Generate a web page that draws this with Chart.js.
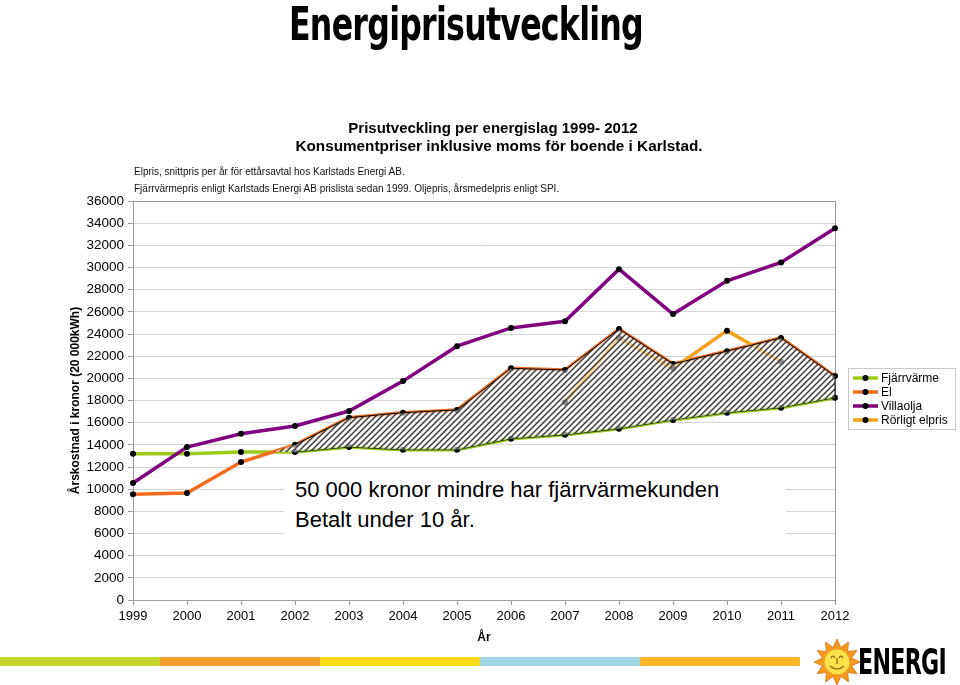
<!DOCTYPE html>
<html>
<head>
<meta charset="utf-8">
<script src="https://cdn.jsdelivr.net/npm/chart.js@4.4.1/dist/chart.umd.min.js"></script>
<style>
  body { margin: 0; background: #fff; font-family: "Liberation Sans", Arial, sans-serif; }
  #wrap { position: relative; width: 960px; height: 685px; overflow: hidden; }
  #chart { position: absolute; left: 0; top: 0; }
  .abs { position: absolute; white-space: nowrap; }
  #title { left: 0; top: -3px; font-family: "DejaVu Sans Condensed", "DejaVu Sans"; font-weight: bold; font-size: 46px; letter-spacing: -1px; transform-origin: 0 0; color: #000; }
  .sub { width: 960px; left: 0; text-align: center; font-weight: bold; font-size: 15px; }
  .note { left: 134px; font-size: 10px; color: #111; }
  #note-box { left: 284px; top: 474px; width: 502px; height: 62px; background: #fff; box-sizing: border-box; padding: 1px 0 0 11px; font-size: 22px; line-height: 30px; }
  #legend { left: 848px; top: 368px; width: 106px; border: 1px solid #c8c8c8; background: #fff; padding: 2px 0; font-size: 12px; }
  .li { display: flex; align-items: center; height: 14px; }
  .li canvas { margin: 0 3px 0 4px; }
  .stripe { position: absolute; top: 657px; height: 9px; width: 160px; }
  #energi { left: 858px; top: 641px; font-family: "DejaVu Sans Condensed", "DejaVu Sans"; font-weight: bold; font-size: 36px; letter-spacing: -1px; transform-origin: 0 0; }
</style>
</head>
<body>
<div id="wrap">
  <canvas id="chart" width="960" height="685"></canvas>
  <div id="title" class="abs">Energiprisutveckling</div>
  <div class="abs sub" style="top:119px; left:13px">Prisutveckling per energislag 1999- 2012</div>
  <div class="abs sub" style="top:137px; left:19px; font-size:15.3px">Konsumentpriser inklusive moms för boende i Karlstad.</div>
  <div class="abs note" style="top:166px">Elpris, snittpris per år för ettårsavtal hos Karlstads Energi AB.</div>
  <div class="abs note" style="top:183px">Fjärrvärmepris enligt Karlstads Energi AB prislista sedan 1999. Oljepris, årsmedelpris enligt SPI.</div>
  <div id="note-box" class="abs">50 000 kronor mindre har fjärrvärmekunden<br>Betalt under 10 år.</div>
  <div id="legend" class="abs"></div>
  <div class="stripe" style="left:0; background:#c4d52b"></div>
  <div class="stripe" style="left:160px; background:#f2a22c"></div>
  <div class="stripe" style="left:320px; background:#fdda18"></div>
  <div class="stripe" style="left:480px; background:#a0d7e3"></div>
  <div class="stripe" style="left:640px; background:#fbb52b"></div>
  <svg class="abs" style="left:814px; top:638px" width="46" height="47" viewBox="0 0 46 47">
    <polygon id="sun" fill="#f39a1e" stroke="#d9731a" stroke-width="0.8"></polygon>
    <circle cx="23" cy="24" r="13" fill="#ffe24a" stroke="#e8a020" stroke-width="1"/>
    <path d="M17 20 q2 -4 4 0 M25 20 q2 -4 4 0 M23 20 v6 M16 28 q7 6 14 0" fill="none" stroke="#8a5a10" stroke-width="1.2"/>
  </svg>
  <div id="energi" class="abs">ENERGI</div>
</div>
<script>
// values (kr / year, 20 000 kWh)
const years = ['1999', '2000', '2001', '2002', '2003', '2004', '2005', '2006', '2007', '2008', '2009', '2010', '2011', '2012'];
const fjarrvarme = [13200, 13200, 13350, 13350, 13800, 13550, 13550, 14550, 14900, 15450, 16250, 16900, 17350, 18250];
const el = [9550, 9650, 12450, 14000, 16450, 16900, 17150, 20900, 20750, 24450, 21300, 22450, 23650, 20200];
const villaolja = [10550, 13800, 15000, 15700, 17050, 19750, 22900, 24550, 25150, 29850, 25800, 28800, 30450, 33550];
const rorligtElpris = [null, null, null, null, null, null, null, null, 17850, 23650, 20900, 24300, 21500, null];
const hatchFrom = 2; // hatched gap between El and Fjärrvärme starts at 2001

const yTicks = { min: 0, max: 36000, step: 2000 };

// fit the big headline and the logo text to their widths
function fitWidth(id, w) {
  const el = document.getElementById(id);
  const r = el.getBoundingClientRect();
  el.style.transform = 'scaleX(' + (w / r.width) + ')';
}
const t = document.getElementById('title');
fitWidth('title', 354);
t.style.left = '289px';
fitWidth('energi', 88);

// sun rays
(function () {
  const pts = [];
  for (let i = 0; i < 24; i++) {
    const a = Math.PI * i / 12 - Math.PI / 2;
    const r = i % 2 ? 15 : 23;
    pts.push((23 + r * Math.cos(a)).toFixed(1) + ',' + (24 + r * Math.sin(a)).toFixed(1));
  }
  document.getElementById('sun').setAttribute('points', pts.join(' '));
})();

// diagonal hatch pattern
function hatchPattern() {
  const c = document.createElement('canvas');
  c.width = 6; c.height = 6;
  const g = c.getContext('2d');
  g.fillStyle = 'rgba(255,255,255,0.55)';
  g.fillRect(0, 0, 6, 6);
  g.strokeStyle = '#3c3c3c';
  g.lineWidth = 1.5;
  g.beginPath();
  g.moveTo(-1, 7); g.lineTo(7, -1);
  g.moveTo(-4, 4); g.lineTo(4, -4);
  g.moveTo(2, 10); g.lineTo(10, 2);
  g.stroke();
  return g.createPattern(c, 'repeat');
}

const ctx = document.getElementById('chart').getContext('2d');
const dot = { pointRadius: 3, pointHoverRadius: 3, pointBackgroundColor: '#000', pointBorderWidth: 0, tension: 0 };

const plotFrame = {
  id: 'plotFrame',
  beforeDatasetsDraw(chart) {
    const a = chart.chartArea, c = chart.ctx;
    c.save();
    c.strokeStyle = '#9a9a9a';
    c.lineWidth = 1;
    c.strokeRect(Math.round(a.left) + 0.5, Math.round(a.top) + 0.5, Math.round(a.right - a.left), Math.round(a.bottom - a.top));
    c.restore();
  },
  afterDatasetsDraw(chart) {
    // close the hatched area on its right side
    const top = chart.getDatasetMeta(4).data, base = chart.getDatasetMeta(5).data;
    const p = top[top.length - 1], q = base[base.length - 1];
    const c = chart.ctx;
    c.save();
    c.strokeStyle = '#000';
    c.lineWidth = 1;
    c.beginPath(); c.moveTo(p.x, p.y); c.lineTo(q.x, q.y); c.stroke();
    c.restore();
  }
};

const chart = new Chart(ctx, {
  type: 'line',
  data: {
    labels: years,
    datasets: [
      { label: 'Fjärrvärme', data: fjarrvarme, borderColor: '#9dcb1a', borderWidth: 3.5, order: 5, ...dot },
      { label: 'El', data: el, borderColor: '#f26c1c', borderWidth: 3.5, order: 4, ...dot },
      { label: 'Villaolja', data: villaolja, borderColor: '#800080', borderWidth: 3.5, order: 0, ...dot },
      { label: 'Rörligt elpris', data: rorligtElpris, borderColor: '#f5a11c', borderWidth: 3.5, order: 3, ...dot },
      {
        label: 'hatchTop', data: el.map((v, i) => i >= hatchFrom ? v : null),
        borderColor: '#000', borderWidth: 1, pointRadius: 0, order: 1, tension: 0,
        segment: { borderColor: s => s.p0DataIndex < 3 ? 'rgba(0,0,0,0)' : '#000' },
        fill: { target: 5, above: hatchPattern(), below: 'rgba(0,0,0,0)' }
      },
      {
        label: 'hatchBase', data: fjarrvarme.map((v, i) => i >= hatchFrom ? v : null),
        borderColor: '#000', borderWidth: 1, pointRadius: 0, order: 2, tension: 0,
        segment: { borderColor: s => s.p0DataIndex < 3 ? 'rgba(0,0,0,0)' : '#1a3a00' },
        fill: false
      }
    ]
  },
  options: {
    responsive: false,
    animation: false,
    layout: { padding: { left: 63, top: 201, right: 125, bottom: 40 } },
    plugins: {
      legend: { display: false },
      tooltip: { enabled: false },
      title: { display: false }
    },
    scales: {
      x: {
        offset: false,
        grid: { drawOnChartArea: false, drawTicks: true, tickLength: 5, color: '#9a9a9a' },
        border: { color: '#9a9a9a' },
        ticks: { color: '#000', font: { family: 'Liberation Sans', size: 13 }, padding: 4, maxRotation: 0, autoSkip: false },
        title: { display: true, text: 'År', color: '#000', font: { family: 'Liberation Sans', size: 12, weight: 'bold' }, padding: { top: 0, bottom: 0 } },
        afterFit: s => { s.height = 45; }
      },
      y: {
        min: yTicks.min, max: yTicks.max,
        grid: { color: '#d6d6d6', tickLength: 5, tickColor: '#9a9a9a' },
        border: { color: '#9a9a9a' },
        ticks: { stepSize: yTicks.step, color: '#000', font: { family: 'Liberation Sans', size: 13.5 }, padding: 4, callback: v => String(v) },
        title: { display: true, text: 'Årskostnad i kronor (20 000kWh)', color: '#000', font: { family: 'Liberation Sans', size: 12, weight: 'bold' }, padding: { top: 5, bottom: 0 } },
        afterFit: s => { s.width = 70; }
      }
    }
  },
  plugins: [plotFrame]
});

// legend built from the chart's own datasets
const legend = document.getElementById('legend');
[0, 1, 2, 3].forEach(i => {
  const ds = chart.data.datasets[i];
  const row = document.createElement('div');
  row.className = 'li';
  const c = document.createElement('canvas');
  c.width = 25; c.height = 10;
  const g = c.getContext('2d');
  g.strokeStyle = ds.borderColor; g.lineWidth = 3.5;
  g.beginPath(); g.moveTo(0, 5); g.lineTo(25, 5); g.stroke();
  g.fillStyle = '#000'; g.beginPath(); g.arc(12.5, 5, 3, 0, Math.PI * 2); g.fill();
  row.appendChild(c);
  const s = document.createElement('span');
  s.textContent = ds.label;
  row.appendChild(s);
  legend.appendChild(row);
});
</script>
</body>
</html>
